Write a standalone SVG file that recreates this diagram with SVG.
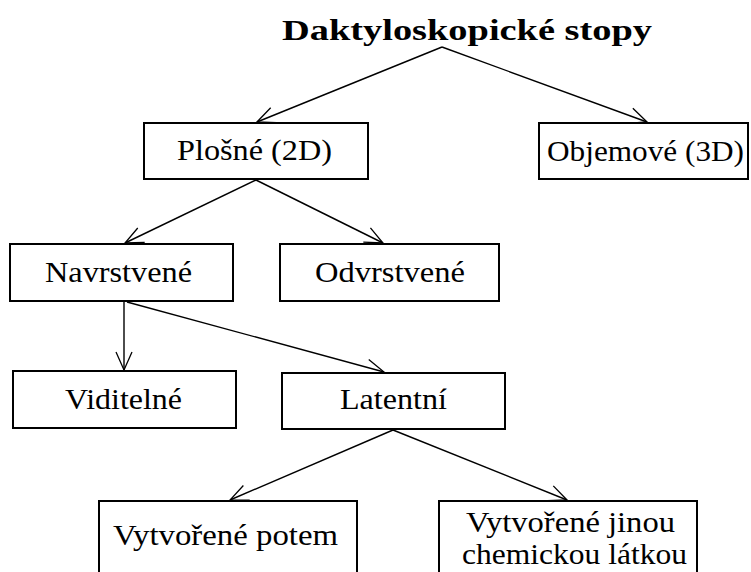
<svg xmlns="http://www.w3.org/2000/svg" width="751" height="572" viewBox="0 0 751 572">
<style>
.box{fill:#fff;stroke:#000;stroke-width:2}
.lbl{font-size:29px;fill:#000}
.ttl{font-size:30px;font-weight:bold;fill:#000}
.con{fill:none;stroke:#000;stroke-width:1.4}
</style>
<defs>
<marker id="arr" markerUnits="userSpaceOnUse" markerWidth="40" markerHeight="40" refX="0" refY="0" viewBox="-20 -20 40 40" orient="auto" overflow="visible">
<path d="M-18,-8 L0,0 L-18,8" fill="none" stroke="#000" stroke-width="1.3"/>
</marker>
</defs>
<rect width="751" height="572" fill="#fff"/>
<g font-family="'Liberation Serif', 'DejaVu Serif', serif">
<g id="title"><text class="ttl" x="282" y="40" textLength="370" lengthAdjust="spacingAndGlyphs">Daktyloskopické stopy</text></g>
<g id="connectors">
<line class="con" x1="442" y1="47" x2="257" y2="122" marker-end="url(#arr)"/>
<line class="con" x1="442" y1="47" x2="647" y2="122" marker-end="url(#arr)"/>
<line class="con" x1="256" y1="180" x2="125" y2="243" marker-end="url(#arr)"/>
<line class="con" x1="256" y1="180" x2="383" y2="243" marker-end="url(#arr)"/>
<line class="con" x1="124" y1="302" x2="124" y2="370" marker-end="url(#arr)"/>
<line class="con" x1="127" y1="302" x2="384" y2="372" marker-end="url(#arr)"/>
<line class="con" x1="393" y1="430" x2="230" y2="500" marker-end="url(#arr)"/>
<line class="con" x1="393" y1="430" x2="567" y2="500" marker-end="url(#arr)"/>
</g>
<g id="plosne"><rect class="box" x="144" y="123" width="224" height="56"/><text class="lbl" x="177" y="160" textLength="155" lengthAdjust="spacingAndGlyphs">Plošné (2D)</text></g>
<g id="objemove"><rect class="box" x="539" y="123" width="209" height="56"/><text class="lbl" x="547" y="161" textLength="197" lengthAdjust="spacingAndGlyphs">Objemové (3D)</text></g>
<g id="navrstvene"><rect class="box" x="10" y="244" width="223" height="57"/><text class="lbl" x="45" y="282" textLength="147" lengthAdjust="spacingAndGlyphs">Navrstvené</text></g>
<g id="odvrstvene"><rect class="box" x="280" y="244" width="219" height="57"/><text class="lbl" x="315" y="282" textLength="150" lengthAdjust="spacingAndGlyphs">Odvrstvené</text></g>
<g id="viditelne"><rect class="box" x="13" y="371" width="223" height="57"/><text class="lbl" x="65" y="409" textLength="117" lengthAdjust="spacingAndGlyphs">Viditelné</text></g>
<g id="latentni"><rect class="box" x="282" y="373" width="223" height="56"/><text class="lbl" x="340" y="409" textLength="107" lengthAdjust="spacingAndGlyphs">Latentní</text></g>
<g id="potem"><rect class="box" x="99" y="501" width="258" height="90"/><text class="lbl" x="113" y="545" textLength="225" lengthAdjust="spacingAndGlyphs">Vytvořené potem</text></g>
<g id="jinou"><rect class="box" x="439" y="501" width="258" height="90"/><text class="lbl" x="466" y="532" textLength="209" lengthAdjust="spacingAndGlyphs">Vytvořené jinou</text><text class="lbl" x="462" y="564" textLength="225" lengthAdjust="spacingAndGlyphs">chemickou látkou</text></g>
</g>
</svg>
